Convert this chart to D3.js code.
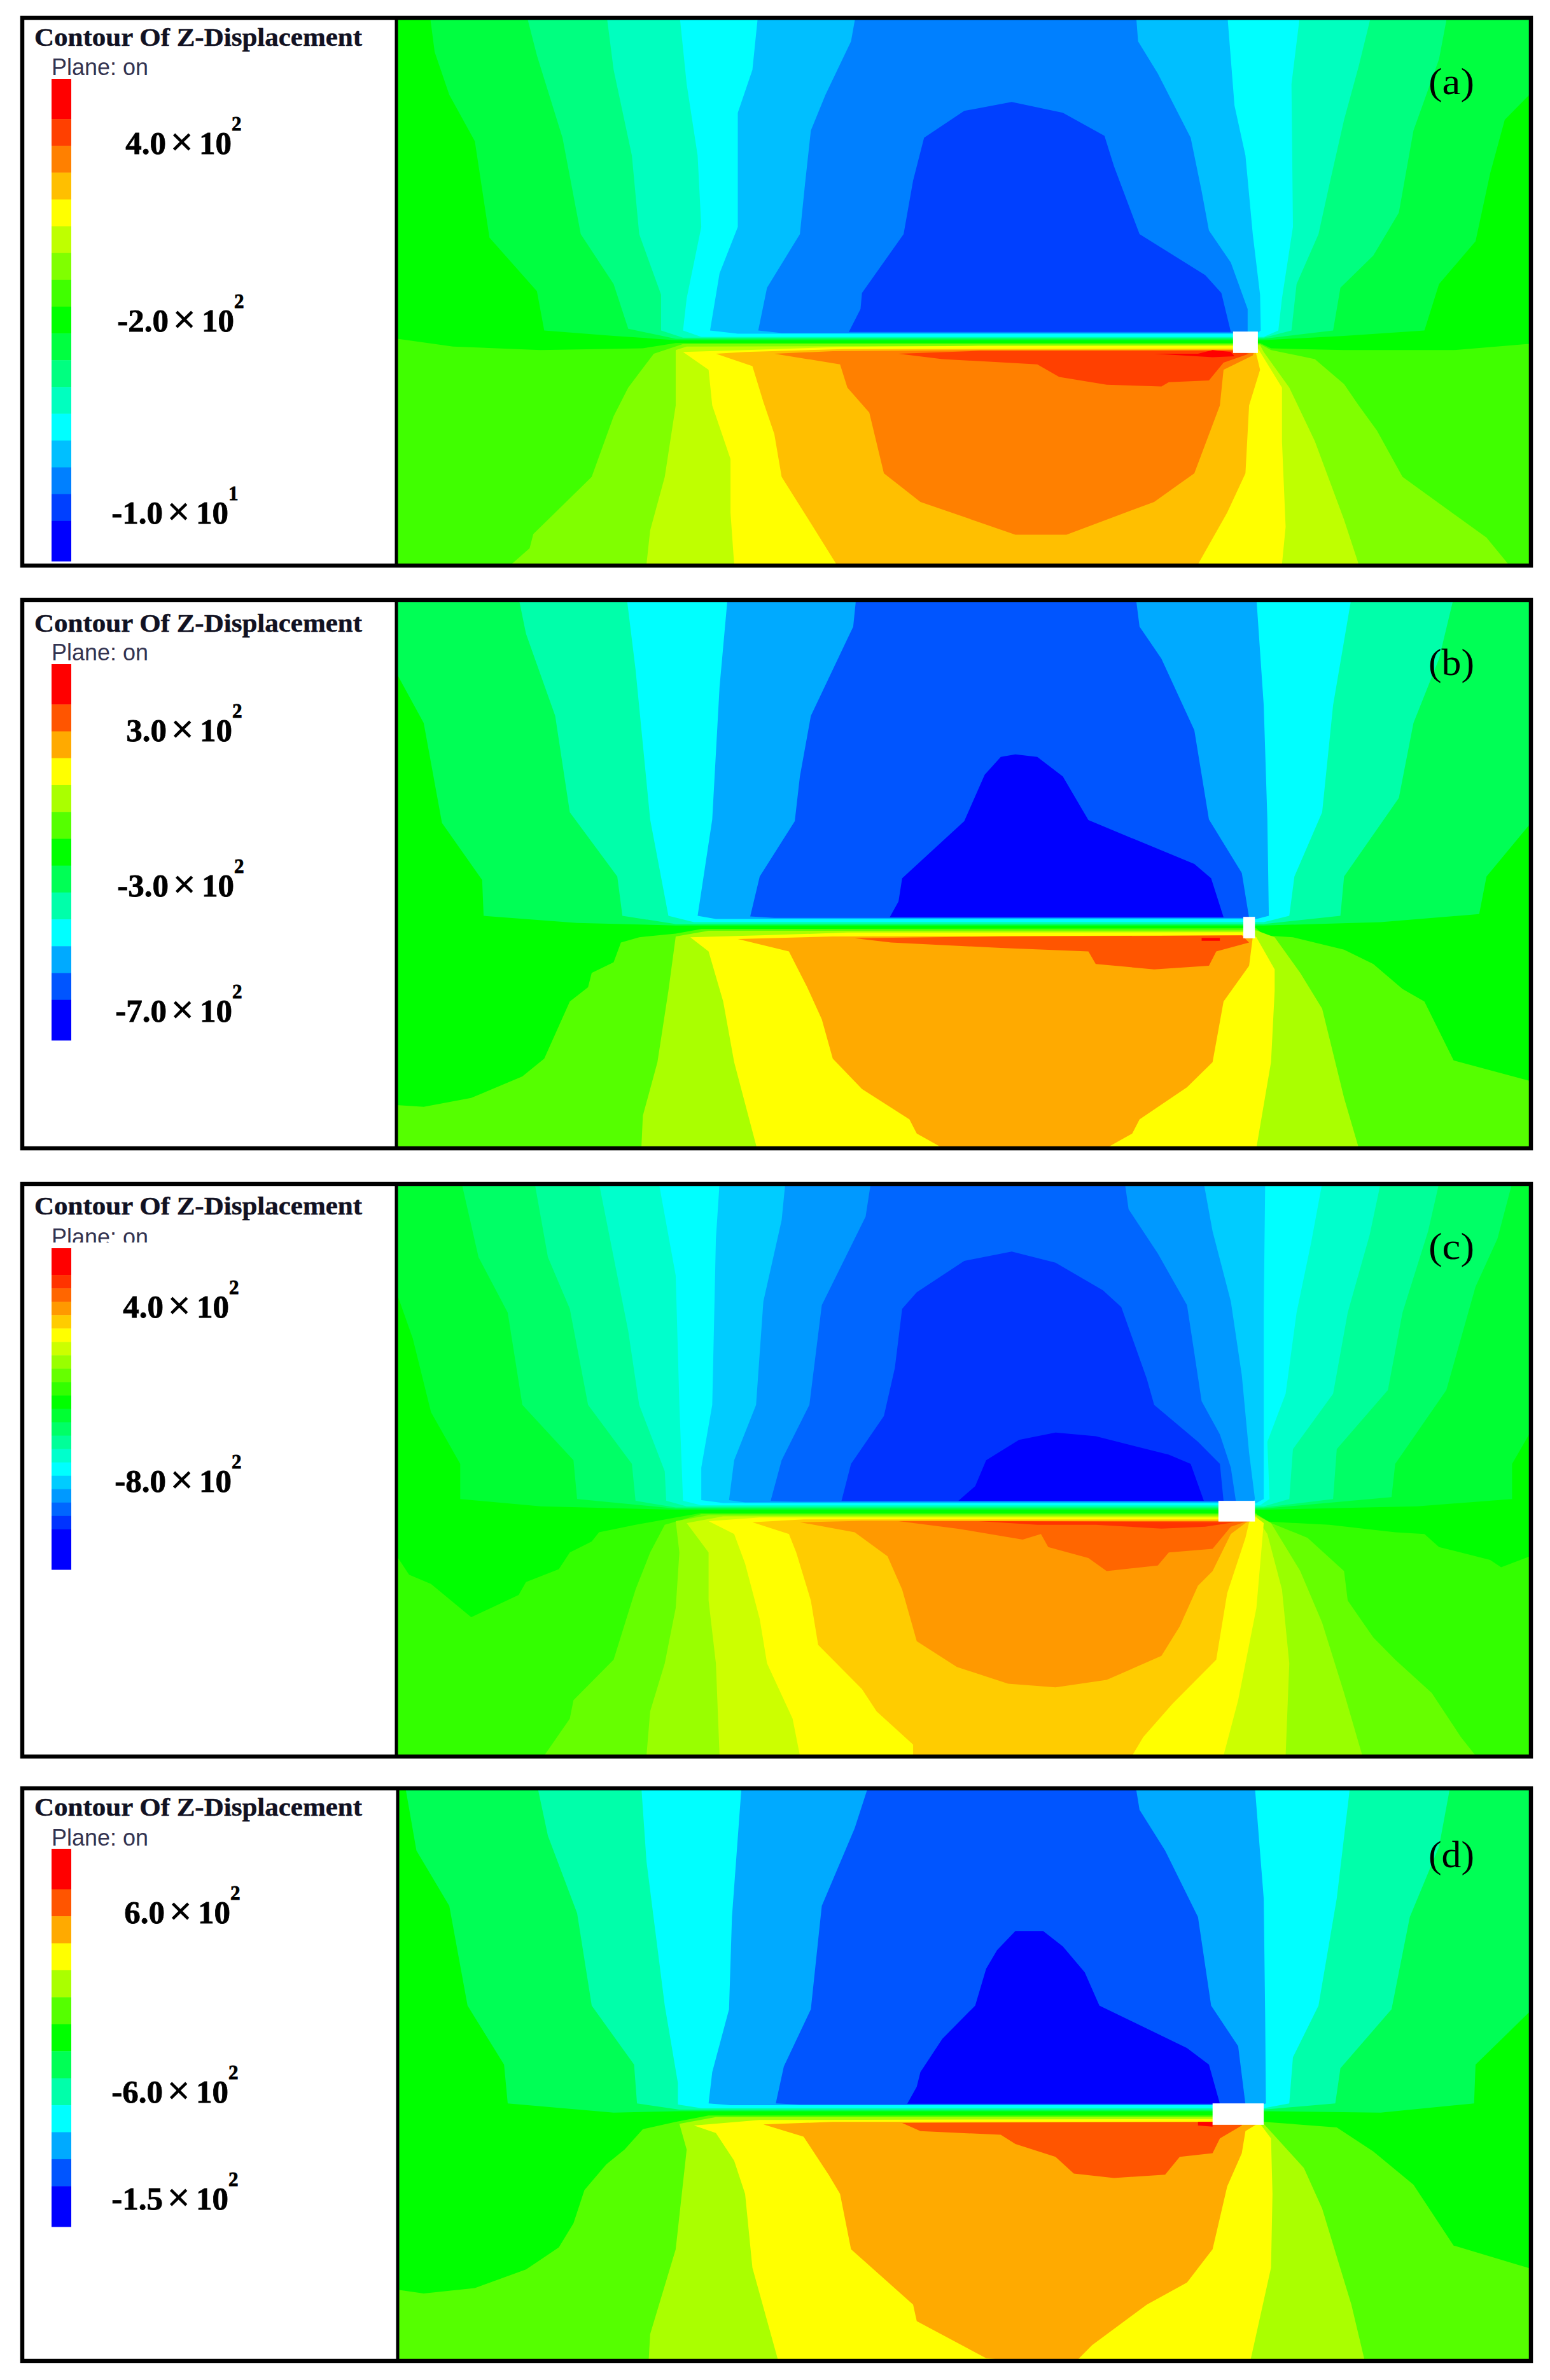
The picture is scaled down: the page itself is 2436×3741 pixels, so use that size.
<!DOCTYPE html>
<html>
<head>
<meta charset="utf-8">
<script src="https://cdn.jsdelivr.net/npm/d3@7"></script>
<style>
  html, body { margin: 0; padding: 0; background: #fff; }
  svg { display: block; }
</style>
</head>
<body>
<script>
// Band colours of each legend, top (highest displacement) to bottom
const coloursA = ['#ff0000', '#ff4000', '#ff8000', '#ffbf00', '#ffff00', '#bfff00', '#80ff00', '#40ff00', '#00ff00', '#00ff40', '#00ff80', '#00ffbf', '#00ffff', '#00bfff', '#0080ff', '#0040ff', '#0000ff'];
const coloursB = ['#ff0000', '#ff5500', '#ffaa00', '#ffff00', '#aaff00', '#55ff00', '#00ff00', '#00ff55', '#00ffaa', '#00ffff', '#00aaff', '#0055ff', '#0000ff'];
const coloursC = ['#ff0000', '#ff3300', '#ff6600', '#ff9900', '#ffcc00', '#ffff00', '#ccff00', '#99ff00', '#66ff00', '#33ff00', '#00ff00', '#00ff33', '#00ff66', '#00ff99', '#00ffcc', '#00ffff', '#00ccff', '#0099ff', '#0066ff', '#0033ff', '#0000ff'];
const coloursD = coloursB;

// Legend tick labels: mantissa, exponent, place along the legend (in band units)
const ticksA = [['4.0', 2, 2.8], ['-2.0', 2, 9.43], ['-1.0', 1, 16.6]];
const ticksB = [['3.0', 2, 2.87], ['-3.0', 2, 8.65], ['-7.0', 2, 13.32]];
const ticksC = [['4.0', 2, 5.18], ['-8.0', 2, 18.2]];
const ticksD = [['6.0', 2, 2.76], ['-6.0', 2, 9.4], ['-1.5', 2, 13.36]];

// Contour regions [band index, outline], painted in order. Outlines are read off the
// picture in model units (0..1568 across and down each crop of the plot)
const contoursA = [
  [9, [[48,0],[55,110],[75,230],[110,360],[130,630],[195,780],[205,890],[300,905],[385,917],[1190,917],[1300,905],[1410,890],[1430,760],[1480,640],[1500,450],[1520,300],[1568,200],[1568,0]]],
  [10, [[180,0],[195,120],[230,350],[255,620],[300,760],[320,885],[385,913],[1190,913],[1285,890],[1295,770],[1340,680],[1375,560],[1395,330],[1430,130],[1442,0]]],
  [11, [[290,0],[300,160],[325,400],[335,620],[365,790],[365,890],[395,910],[1190,910],[1228,890],[1235,760],[1265,620],[1280,480],[1300,300],[1320,150],[1338,0]]],
  [12, [[390,0],[400,200],[415,400],[420,600],[400,800],[395,890],[420,908],[1190,908],[1210,890],[1215,800],[1230,600],[1228,200],[1240,0]]],
  [13, [[498,0],[490,160],[470,280],[470,600],[445,730],[432,890],[470,899],[1180,899],[1186,890],[1185,790],[1175,620],[1165,400],[1150,260],[1140,0]]],
  [14, [[632,0],[625,80],[590,230],[570,330],[562,480],[555,620],[510,770],[498,890],[530,897],[1168,897],[1168,830],[1145,700],[1115,610],[1105,500],[1090,350],[1045,170],[1018,80],[1015,0]]],
  [15, [[845,250],[780,275],[725,350],[710,470],[697,620],[640,785],[638,830],[622,894],[1145,894],[1132,785],[1110,735],[1020,620],[985,430],[972,345],[915,280]]],
  [7, [[0,912],[80,935],[200,945],[340,940],[385,925],[1185,925],[1200,940],[1300,945],[1450,945],[1568,925],[1568,1545],[0,1545]]],
  [6, [[395,928],[1185,928],[1200,945],[1260,970],[1300,1040],[1320,1100],[1345,1170],[1380,1300],[1495,1470],[1525,1545],[160,1545],[185,1500],[190,1460],[270,1300],[300,1130],[320,1050],[355,955]]],
  [5, [[385,945],[400,935],[1185,931],[1190,950],[1225,1050],[1260,1200],[1300,1420],[1320,1545],[345,1545],[350,1450],[370,1300],[385,1100]]],
  [4, [[395,950],[482,945],[610,936],[800,933],[1180,933],[1185,950],[1215,1050],[1215,1200],[1220,1440],[1215,1545],[465,1545],[460,1400],[460,1250],[435,1100],[430,1000]]],
  [3, [[440,955],[480,950],[615,942],[1178,941],[1185,1000],[1170,1100],[1165,1290],[1140,1400],[1100,1545],[605,1545],[570,1430],[530,1300],[520,1180],[505,1090],[490,990]]],
  [2, [[520,955],[600,948],[800,945],[1178,945],[1175,960],[1135,1000],[1130,1100],[1095,1290],[1040,1370],[920,1462],[850,1462],[720,1370],[670,1290],[650,1120],[620,1050],[610,985]]],
  [1, [[690,955],[800,947],[1150,946],[1170,955],[1135,980],[1115,1030],[1060,1035],[1050,1047],[975,1042],[910,1020],[880,985],[750,970]]],
  [0, [[1040,955],[1100,955],[1120,945],[1145,950],[1150,962],[1120,965]]],
];

const contoursB = [
  [7, [[0,0],[0,200],[40,350],[65,630],[120,790],[122,890],[250,910],[385,917],[1190,917],[1350,908],[1485,885],[1495,780],[1568,600],[1568,0]]],
  [8, [[170,0],[180,100],[220,330],[240,600],[305,780],[312,890],[385,913],[1190,913],[1295,890],[1300,780],[1375,560],[1395,350],[1430,170],[1450,0]]],
  [9, [[318,0],[330,200],[350,620],[375,890],[410,908],[1190,908],[1225,890],[1232,780],[1270,600],[1285,300],[1310,0]]],
  [10, [[456,0],[445,250],[435,620],[415,890],[440,899],[1180,899],[1197,890],[1195,620],[1190,300],[1180,0]]],
  [11, [[632,0],[628,80],[570,330],[555,500],[548,625],[500,780],[487,892],[520,896],[1170,896],[1160,770],[1115,620],[1095,370],[1050,170],[1020,80],[1015,0]]],
  [12, [[850,438],[830,445],[808,495],[780,625],[695,785],[690,850],[678,894],[1135,894],[1118,785],[1095,745],[950,622],[915,500],[880,445]]],
  [5, [[0,1420],[40,1425],[105,1400],[175,1340],[205,1290],[240,1130],[265,1090],[270,1050],[300,1020],[310,965],[335,950],[385,940],[420,927],[1180,925],[1190,945],[1230,950],[1300,985],[1340,1025],[1380,1095],[1410,1130],[1450,1295],[1568,1360],[1568,1540],[0,1540]]],
  [4, [[385,948],[430,932],[1180,931],[1205,950],[1240,1050],[1270,1150],[1300,1400],[1320,1540],[338,1540],[340,1450],[360,1300],[375,1100]]],
  [3, [[405,950],[500,945],[620,937],[1170,936],[1180,950],[1205,1040],[1205,1100],[1200,1300],[1180,1540],[496,1540],[465,1300],[450,1130],[430,990]]],
  [2, [[470,955],[600,948],[1170,945],[1175,950],[1170,1030],[1135,1130],[1120,1300],[1085,1370],[1020,1460],[1010,1500],[975,1540],[750,1540],[715,1500],[705,1460],[640,1375],[600,1290],[585,1180],[565,1090],[540,990]]],
  [1, [[630,953],[680,965],[830,980],[950,990],[960,1025],[1040,1040],[1115,1030],[1125,990],[1170,965],[1160,945],[830,948]]],
  [0, [[1105,952],[1130,952],[1130,960],[1105,960]]],
];

const contoursC = [
  [11, [[0,0],[0,280],[25,420],[50,620],[90,760],[90,855],[200,875],[385,884],[1190,884],[1400,875],[1530,855],[1530,760],[1568,630],[1568,0]]],
  [12, [[92,0],[115,200],[155,350],[175,600],[245,750],[250,855],[385,881],[1190,881],[1365,850],[1370,760],[1440,560],[1480,280],[1510,150],[1530,0]]],
  [13, [[192,0],[210,200],[240,340],[265,600],[325,760],[330,860],[385,878],[1190,878],[1285,855],[1290,720],[1360,560],[1380,350],[1415,130],[1430,0]]],
  [14, [[280,0],[300,200],[320,400],[335,600],[370,780],[372,860],[400,875],[1190,875],[1225,855],[1230,720],[1285,570],[1305,350],[1335,140],[1350,0]]],
  [15, [[362,0],[385,250],[390,600],[395,860],[420,872],[1185,872],[1198,855],[1195,700],[1220,570],[1235,350],[1255,160],[1270,0]]],
  [16, [[445,0],[440,150],[435,600],[420,770],[420,858],[450,866],[1180,866],[1190,855],[1190,620],[1190,350],[1192,0]]],
  [17, [[535,0],[530,100],[505,320],[495,600],[465,750],[458,858],[480,864],[1175,864],[1178,855],[1170,730],[1160,520],[1145,320],[1120,130],[1108,0]]],
  [18, [[652,0],[645,90],[585,330],[568,600],[530,750],[515,860],[550,862],[1152,862],[1145,770],[1130,680],[1105,590],[1085,330],[1045,190],[1005,70],[1000,0]]],
  [19, [[845,185],[780,210],[715,295],[695,340],[685,500],[670,630],[625,760],[612,860],[1135,860],[1130,760],[1100,700],[1040,600],[1030,530],[995,335],[970,290],[905,215]]],
  [20, [[905,675],[855,695],[810,750],[795,820],[772,860],[1108,860],[1090,760],[1060,735],[960,685]]],
  [9, [[0,1000],[20,1060],[50,1085],[105,1175],[170,1115],[180,1080],[225,1045],[240,1000],[270,970],[280,945],[330,925],[385,905],[420,893],[1180,893],[1185,915],[1280,925],[1370,945],[1410,950],[1430,985],[1500,1020],[1515,1040],[1568,1000],[1568,1550],[0,1550]]],
  [8, [[370,925],[420,896],[1180,896],[1200,920],[1250,960],[1300,1050],[1305,1130],[1340,1230],[1370,1290],[1420,1380],[1460,1500],[1480,1550],[205,1550],[240,1450],[245,1400],[300,1290],[330,1100],[350,1000]]],
  [7, [[385,915],[430,899],[1180,899],[1200,920],[1240,1050],[1270,1190],[1300,1380],[1325,1550],[345,1550],[350,1430],[370,1300],[385,1150],[390,1000]]],
  [6, [[400,920],[450,902],[1180,902],[1185,920],[1195,950],[1215,1100],[1225,1300],[1220,1550],[445,1550],[440,1300],[430,1130],[430,1000]]],
  [5, [[430,915],[500,905],[1180,905],[1190,920],[1180,1150],[1155,1400],[1135,1550],[555,1550],[545,1450],[510,1300],[500,1180],[480,1030],[465,950]]],
  [4, [[490,918],[560,910],[1175,910],[1170,918],[1165,960],[1140,1110],[1125,1290],[1065,1410],[1025,1500],[1010,1550],[710,1550],[710,1520],[660,1430],[640,1370],[580,1250],[570,1130],[550,1000],[540,950]]],
  [3, [[555,918],[640,914],[1172,914],[1165,920],[1145,950],[1120,1050],[1100,1090],[1075,1200],[1050,1280],[975,1345],[905,1365],[840,1355],[770,1310],[715,1240],[695,1100],[675,1010],[630,945]]],
  [2, [[690,915],[1168,915],[1145,930],[1120,990],[1060,1000],[1045,1035],[975,1050],[950,1015],[895,985],[885,950],[860,965],[770,935]]],
  [1, [[800,915],[1150,918],[1110,930],[1050,935],[960,925],[880,925]]],
];

const contoursD = [
  [7, [[15,0],[30,170],[75,320],[100,590],[150,750],[155,855],[300,880],[390,876],[1190,876],[1350,880],[1478,855],[1480,750],[1568,580],[1568,0]]],
  [8, [[196,0],[210,130],[250,340],[270,590],[328,750],[332,855],[390,872],[1190,872],[1288,855],[1295,760],[1365,600],[1390,350],[1430,160],[1445,0]]],
  [9, [[338,0],[345,200],[370,590],[388,800],[388,858],[420,868],[1190,868],[1225,855],[1230,730],[1265,590],[1290,300],[1308,0]]],
  [10, [[475,0],[462,350],[458,600],[435,770],[430,855],[460,860],[1185,860],[1193,855],[1192,620],[1190,300],[1178,0]]],
  [11, [[648,0],[630,110],[585,320],[570,600],[533,755],[522,855],[555,858],[1165,858],[1155,700],[1118,590],[1100,350],[1055,170],[1020,60],[1015,0]]],
  [12, [[850,388],[825,440],[810,490],[795,590],[750,680],[720,770],[715,810],[702,856],[1130,856],[1115,750],[1085,705],[965,590],[945,500],[915,430],[888,388]]],
  [5, [[5,1360],[40,1370],[110,1355],[180,1305],[225,1245],[245,1180],[260,1090],[290,1020],[315,980],[340,925],[385,905],[430,888],[1180,888],[1190,905],[1290,920],[1340,985],[1395,1075],[1450,1240],[1568,1310],[1568,1550],[0,1550],[0,1360]]],
  [4, [[390,910],[440,892],[1180,892],[1190,910],[1245,1030],[1270,1140],[1310,1400],[1328,1550],[348,1550],[350,1480],[385,1250],[400,980]]],
  [3, [[410,915],[500,900],[1180,897],[1185,910],[1200,950],[1202,1100],[1200,1300],[1172,1550],[525,1550],[490,1300],[480,1100],[465,1010],[440,935]]],
  [2, [[505,912],[600,905],[1178,905],[1180,912],[1165,930],[1160,990],[1140,1080],[1120,1250],[1085,1340],[1030,1400],[955,1510],[935,1550],[838,1550],[810,1545],[715,1445],[710,1400],[625,1250],[610,1100],[595,1050],[560,945]]],
  [1, [[695,908],[1160,905],[1160,915],[1130,950],[1120,990],[1075,1000],[1055,1048],[985,1057],[930,1045],[905,1000],[850,965],[830,940],[720,930]]],
  [0, [[1100,905],[1120,905],[1120,918],[1100,915]]],
];

// White notch at the end of the fracture: x0, y0, x1, y1 in model units
const notchA = [1148, 893, 1182, 953];
const notchB = [1162, 893, 1178, 953];
const notchC = [1128, 860, 1178, 916];
const notchD = [1120, 855, 1190, 913];

const panels = [
  { tag: '(a)', colours: coloursA, ticks: ticksA, contours: contoursA, notch: notchA, ends: [1.5, 1.5], base: 8,
    cropY: [20, 900], frame: [35, 28, 2406, 889], divider: 623, titleY: 72, planeY: 118, bar: [124, 882], tagY: 148, tickEnd: [261, 265, 256] },
  { tag: '(b)', colours: coloursB, ticks: ticksB, contours: contoursB, notch: notchB, ends: [1.5, 1.5], base: 6,
    cropY: [940, 1820], frame: [35, 943, 2406, 1805], divider: 623, titleY: 993, planeY: 1038, bar: [1044, 1635], tagY: 1061, tickEnd: [262, 265, 262] },
  { tag: '(c)', colours: coloursC, ticks: ticksC, contours: contoursC, notch: notchC, ends: [2, 3], base: 10, planeCut: 1953,
    cropY: [1860, 2770], frame: [35, 1861, 2406, 2761], divider: 623, titleY: 1909, planeY: 1957, bar: [1962, 2467], tagY: 1979, tickEnd: [257, 261] },
  { tag: '(d)', colours: coloursD, ticks: ticksD, contours: contoursD, notch: notchD, ends: [1.5, 1.5], base: 6,
    cropY: [2810, 3720], frame: [35, 2811, 2406, 3711], divider: 625, titleY: 2854, planeY: 2901, bar: [2906, 3500], tagY: 2935, tickEnd: [259, 256, 256] },
];

const svg = d3.select('body').append('svg')
  .attr('width', 2436)
  .attr('height', 3741);

const serif = '"Liberation Serif", "Times New Roman", serif';
const sans = '"Liberation Sans", Arial, sans-serif';
const borderWidth = 6.5;

const xScale = d3.scaleLinear().domain([0, 1568]).range([620, 2420]);

panels.forEach((panel, p) => {
  const yScale = d3.scaleLinear().domain([0, 1568]).range(panel.cropY);
  const [fx0, fy0, fx1, fy1] = panel.frame;
  const g = svg.append('g');

  g.append('rect')
    .attr('x', fx0).attr('y', fy0)
    .attr('width', fx1 - fx0).attr('height', fy1 - fy0)
    .attr('fill', '#fff');

  // Contour plot, clipped to the right hand box
  const clipId = 'plot-clip-' + p;
  svg.append('clipPath').attr('id', clipId)
    .append('rect')
    .attr('x', panel.divider).attr('y', fy0)
    .attr('width', fx1 - panel.divider).attr('height', fy1 - fy0);

  const plot = g.append('g').attr('clip-path', `url(#${clipId})`);

  plot.append('rect')
    .attr('x', panel.divider).attr('y', fy0)
    .attr('width', fx1 - panel.divider).attr('height', fy1 - fy0)
    .attr('fill', panel.colours[panel.base]);

  const line = d3.line().x((d) => xScale(d[0])).y((d) => yScale(d[1]));

  plot.selectAll('path.band')
    .data(panel.contours)
    .join('path')
    .attr('class', 'band')
    .attr('d', (d) => line(d[1]) + 'Z')
    .attr('fill', (d) => panel.colours[d[0]]);

  plot.append('rect')
    .attr('x', xScale(panel.notch[0])).attr('y', yScale(panel.notch[1]))
    .attr('width', xScale(panel.notch[2]) - xScale(panel.notch[0]))
    .attr('height', yScale(panel.notch[3]) - yScale(panel.notch[1]))
    .attr('fill', '#fff');

  // Legend title
  g.append('text')
    .attr('x', 54).attr('y', panel.titleY)
    .attr('font-family', serif).attr('font-weight', 'bold')
    .attr('font-size', 40).attr('fill', '#111122')
    .attr('stroke', '#111122').attr('stroke-width', 0.5)
    .attr('textLength', 515).attr('lengthAdjust', 'spacingAndGlyphs')
    .text('Contour Of Z-Displacement');

  g.append('text')
    .attr('x', 81).attr('y', panel.planeY)
    .attr('font-family', sans).attr('font-size', 37).attr('fill', '#333350')
    .attr('textLength', 152).attr('lengthAdjust', 'spacingAndGlyphs')
    .text('Plane: on');

  // In panel (c) the foot of the text is cut off just above the bar
  if (panel.planeCut) {
    g.append('rect')
      .attr('x', 70).attr('y', panel.planeCut)
      .attr('width', 180).attr('height', panel.bar[0] - panel.planeCut)
      .attr('fill', '#fff');
  }

  // Colour bar, end bands are taller than the others
  const weights = panel.colours.map((c, i) =>
    i === 0 ? panel.ends[0] : i === panel.colours.length - 1 ? panel.ends[1] : 1);
  const edges = [0, ...d3.cumsum(weights)];
  const legendScale = d3.scaleLinear()
    .domain([0, edges[edges.length - 1]])
    .range(panel.bar);

  g.selectAll('rect.swatch')
    .data(panel.colours)
    .join('rect')
    .attr('class', 'swatch')
    .attr('x', 81).attr('width', 31)
    .attr('y', (d, i) => legendScale(edges[i]))
    .attr('height', (d, i) => legendScale(edges[i + 1]) - legendScale(edges[i]) + 0.5)
    .attr('fill', (d) => d);

  // Tick labels
  panel.ticks.forEach((tick, i) => {
    const baseY = legendScale(tick[2]);
    const endX = panel.tickEnd[i];
    const label = g.append('g')
      .attr('font-family', serif).attr('font-weight', 'bold').attr('fill', '#000')
      .attr('stroke', '#000').attr('stroke-width', 0.8);
    label.append('text').attr('x', endX).attr('y', baseY)
      .attr('text-anchor', 'end').attr('font-size', 51).text(tick[0]);
    label.append('text').attr('x', endX + 6).attr('y', baseY + 3)
      .attr('font-size', 66).attr('stroke-width', 0).text('×');
    label.append('text').attr('x', endX + 52).attr('y', baseY)
      .attr('font-size', 51).text('10');
    label.append('text').attr('x', endX + 103).attr('y', baseY - 37)
      .attr('font-size', 31).text(tick[1]);
  });

  // Panel tag
  g.append('text')
    .attr('x', 2245).attr('y', panel.tagY)
    .attr('font-family', serif).attr('font-size', 60).attr('fill', '#000')
    .attr('textLength', 72).attr('lengthAdjust', 'spacingAndGlyphs')
    .text(panel.tag);

  // Frame and divider go on top
  g.append('rect')
    .attr('x', fx0).attr('y', fy0)
    .attr('width', fx1 - fx0).attr('height', fy1 - fy0)
    .attr('fill', 'none').attr('stroke', '#000').attr('stroke-width', borderWidth);
  g.append('line')
    .attr('x1', panel.divider).attr('x2', panel.divider)
    .attr('y1', fy0).attr('y2', fy1)
    .attr('stroke', '#000').attr('stroke-width', 5);
});
</script>
</body>
</html>
